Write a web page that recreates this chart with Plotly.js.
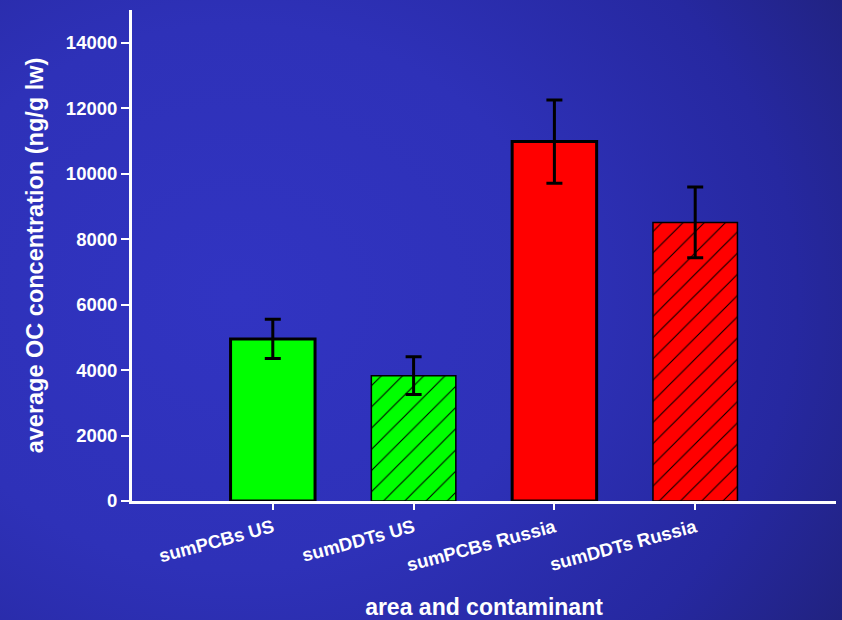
<!DOCTYPE html>
<html>
<head>
<meta charset="utf-8">
<script src="https://cdn.plot.ly/plotly-3.0.1.min.js"></script>
<style>
  html, body { margin: 0; padding: 0; }
  body {
    width: 842px; height: 620px; overflow: hidden;
    background: radial-gradient(ellipse 95% 110% at 28% 48%, #3134c2 0%, #2e31b8 40%, #2628a0 70%, #1e1f6e 100%);
  }
  #chart { width: 842px; height: 620px; }
</style>
</head>
<body>
<div id="chart"></div>
<script>
// Average organochlorine concentrations by area and contaminant
const categories = ['sumPCBs US', 'sumDDTs US', 'sumPCBs Russia', 'sumDDTs Russia'];
const means = [4950, 3830, 10980, 8510];
const errors = [600, 580, 1270, 1080];
const fillColors = ['#00ff00', '#00ff00', '#ff0000', '#ff0000'];
const hatched = [false, true, false, true];
const yTickValues = [0, 2000, 4000, 6000, 8000, 10000, 12000, 14000];

const font = { family: 'Liberation Sans, Arial, sans-serif', color: '#ffffff', weight: 700 };

// One trace per bar, so each keeps a single fill colour and the hatch stays black.
// PCB bars are solid with a heavy outline; DDT bars carry a diagonal hatch.
function barTrace(i) {
  const marker = {
    color: fillColors[i],
    line: { color: '#000000', width: hatched[i] ? 1.5 : 3 }
  };
  if (hatched[i]) {
    marker.pattern = {
      shape: '/', fillmode: 'overlay',
      fgcolor: '#000000', fgopacity: 1,
      size: 15, solidity: 0.07
    };
  }
  return {
    type: 'bar',
    x: [i],
    y: [means[i]],
    width: 0.6,
    marker: marker,
    error_y: {
      type: 'data', array: [errors[i]], visible: true,
      color: '#000000', thickness: 3, width: 8
    },
    hoverinfo: 'none'
  };
}

const layout = {
  width: 842,
  height: 620,
  margin: { l: 132, r: 6, t: 10, b: 119 },
  paper_bgcolor: 'rgba(0,0,0,0)',
  plot_bgcolor: 'rgba(0,0,0,0)',
  showlegend: false,
  barmode: 'overlay',
  xaxis: {
    range: [-1, 4],
    tickvals: categories.map((_, i) => i),
    ticktext: categories,
    tickangle: -15,
    showline: true, linecolor: '#ffffff', linewidth: 3,
    ticks: 'outside', ticklen: 6, tickwidth: 2, tickcolor: '#ffffff',
    showgrid: false, zeroline: false,
    tickfont: Object.assign({ size: 18.5 }, font),
    title: { text: 'area and contaminant', font: Object.assign({ size: 23 }, font), standoff: 26 },
    automargin: false
  },
  yaxis: {
    range: [0, 15000],
    tickvals: yTickValues,
    ticktext: yTickValues.map(String),
    showline: true, linecolor: '#ffffff', linewidth: 3,
    ticks: 'outside', ticklen: 8, tickwidth: 2, tickcolor: '#ffffff',
    showgrid: false, zeroline: false,
    tickfont: Object.assign({ size: 18.5 }, font),
    title: { text: 'average OC concentration (ng/g lw)', font: Object.assign({ size: 23.5 }, font), standoff: 16 },
    automargin: false
  }
};

Plotly.newPlot('chart', categories.map((_, i) => barTrace(i)), layout, { displayModeBar: false, staticPlot: true });
</script>
</body>
</html>
